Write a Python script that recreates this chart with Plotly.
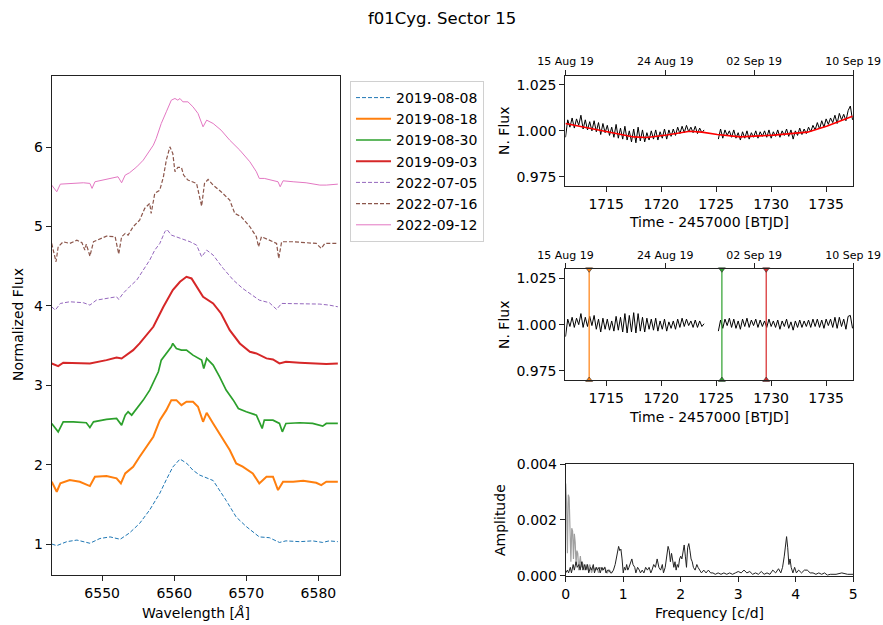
import plotly.graph_objects as go

# ---------------- Spectra (H-alpha profiles, offset) ----------------
wl_0808 = [6543.0, 6543.7, 6545.1, 6546.5, 6548.3, 6549.7, 6551.1, 6552.5, 6553.8, 6555.2, 6556.6, 6558.0,
           6558.9, 6559.8, 6560.8, 6561.7, 6562.6, 6563.5, 6565.4, 6566.3, 6567.2, 6568.6, 6570.0, 6571.8,
           6573.2, 6574.6, 6575.5, 6577.4, 6579.2, 6580.6, 6581.5, 6582.7]
fx_0808 = [1.00, 0.98, 1.03, 1.05, 1.01, 1.07, 1.09, 1.06, 1.14, 1.26, 1.43, 1.64,
           1.81, 1.97, 2.07, 2.02, 1.93, 1.87, 1.80, 1.68, 1.55, 1.34, 1.22, 1.09,
           1.08, 1.02, 1.04, 1.03, 1.04, 1.02, 1.04, 1.03]

wl_0818 = [6543.0, 6543.7, 6544.2, 6545.5, 6546.9, 6548.3, 6549.0, 6550.6, 6552.0, 6552.6, 6553.2, 6554.3,
           6555.2, 6556.2, 6557.1, 6558.0, 6558.9, 6559.6, 6560.3, 6561.0, 6561.7, 6562.6, 6563.3, 6564.0,
           6564.5, 6565.4, 6566.5, 6567.7, 6568.6, 6569.5, 6570.9, 6571.8, 6572.8, 6573.7, 6574.4, 6575.1,
           6576.5, 6577.9, 6579.7, 6580.4, 6581.1, 6582.7]
fx_0818 = [1.785, 1.659, 1.764, 1.806, 1.785, 1.730, 1.848, 1.856, 1.827, 1.764, 1.890, 1.974,
           2.100, 2.226, 2.352, 2.561, 2.687, 2.813, 2.813, 2.750, 2.792, 2.792, 2.729, 2.540,
           2.654, 2.519, 2.352, 2.184, 2.016, 1.974, 1.890, 1.764, 1.848, 1.848, 1.680, 1.785,
           1.785, 1.797, 1.772, 1.743, 1.785, 1.785]

wl_0830 = [6543.0, 6543.9, 6544.6, 6546.0, 6547.8, 6548.3, 6548.8, 6550.6, 6552.0, 6552.7, 6553.2, 6553.6,
           6554.1, 6554.8, 6555.7, 6556.6, 6557.3, 6557.8, 6558.2, 6558.9, 6559.6, 6559.8, 6560.3, 6561.0,
           6561.7, 6562.6, 6563.8, 6564.1, 6564.5, 6565.4, 6566.3, 6567.2, 6568.2, 6568.9, 6570.0, 6571.4,
           6571.8, 6572.2, 6572.5, 6573.7, 6574.6, 6575.0, 6575.5, 6577.4, 6579.2, 6580.6, 6581.1, 6582.7]
fx_0830 = [2.519, 2.414, 2.540, 2.540, 2.528, 2.469, 2.540, 2.570, 2.582, 2.498, 2.624, 2.666,
           2.624, 2.708, 2.813, 2.939, 3.065, 3.170, 3.317, 3.401, 3.485, 3.527, 3.464, 3.443,
           3.443, 3.380, 3.317, 3.212, 3.338, 3.254, 3.107, 2.939, 2.813, 2.708, 2.666, 2.624,
           2.540, 2.456, 2.561, 2.561, 2.519, 2.414, 2.519, 2.528, 2.519, 2.486, 2.519, 2.519]

wl_0903 = [6543.0, 6543.9, 6544.6, 6546.0, 6548.3, 6550.6, 6552.0, 6552.7, 6553.4, 6554.3, 6555.2, 6557.1,
           6558.5, 6559.8, 6560.8, 6561.7, 6562.4, 6563.1, 6564.0, 6565.4, 6566.5, 6567.7, 6569.1, 6570.5,
           6571.4, 6572.8, 6573.7, 6574.6, 6575.5, 6577.4, 6579.2, 6581.1, 6582.7]
fx_0903 = [3.275, 3.242, 3.284, 3.284, 3.275, 3.317, 3.351, 3.338, 3.380, 3.443, 3.527, 3.737,
           3.989, 4.199, 4.304, 4.367, 4.346, 4.241, 4.115, 4.031, 3.905, 3.695, 3.527, 3.422,
           3.401, 3.339, 3.325, 3.275, 3.296, 3.284, 3.275, 3.267, 3.275]

wl_0705 = [6543.0, 6543.5, 6544.2, 6545.5, 6547.4, 6548.3, 6549.2, 6550.6, 6552.0, 6552.3, 6552.9, 6553.8,
           6554.8, 6555.7, 6556.6, 6557.3, 6558.0, 6558.7, 6559.0, 6559.6, 6560.8, 6562.2, 6563.1, 6563.8,
           6564.5, 6565.4, 6566.8, 6568.2, 6569.5, 6570.9, 6571.8, 6573.2, 6574.2, 6574.9, 6576.5, 6578.3,
           6580.2, 6581.5, 6582.7]
fx_0705 = [3.989, 3.947, 4.031, 4.052, 4.040, 4.010, 4.073, 4.094, 4.115, 4.082, 4.157, 4.241,
           4.325, 4.451, 4.577, 4.703, 4.787, 4.934, 4.963, 4.892, 4.850, 4.808, 4.766, 4.619,
           4.703, 4.640, 4.472, 4.325, 4.220, 4.136, 4.073, 4.040, 3.956, 4.031, 4.031, 4.023,
           4.023, 4.010, 3.989]

wl_0716 = [6543.0, 6543.6, 6543.9, 6544.6, 6545.5, 6546.5, 6547.2, 6547.6, 6547.8, 6548.3, 6548.8, 6550.6,
           6551.8, 6552.3, 6552.7, 6553.2, 6553.6, 6554.3, 6555.2, 6555.9, 6556.6, 6556.8, 6557.3, 6558.0,
           6558.5, 6558.9, 6559.4, 6559.8, 6560.1, 6560.5, 6561.0, 6561.3, 6561.9, 6563.1, 6563.8, 6564.2,
           6564.7, 6565.4, 6566.5, 6567.7, 6568.4, 6569.3, 6570.5, 6571.4, 6571.7, 6572.1, 6573.2, 6574.2,
           6574.5, 6574.9, 6576.5, 6578.3, 6579.7, 6580.4, 6580.9, 6582.7]
fx_0716 = [4.787, 4.556, 4.745, 4.808, 4.787, 4.829, 4.795, 4.703, 4.779, 4.627, 4.808, 4.879,
           4.871, 4.653, 4.871, 4.913, 4.892, 4.997, 5.081, 5.228, 5.291, 5.165, 5.417, 5.459,
           5.627, 5.836, 6.004, 5.920, 5.690, 5.744, 5.744, 5.648, 5.585, 5.543, 5.257, 5.543,
           5.593, 5.522, 5.438, 5.333, 5.165, 5.123, 4.997, 4.871, 4.745, 4.871, 4.829, 4.787,
           4.598, 4.808, 4.808, 4.795, 4.787, 4.724, 4.787, 4.787]

wl_0912 = [6543.0, 6543.7, 6544.2, 6545.5, 6547.4, 6548.3, 6548.6, 6549.0, 6550.6, 6552.2, 6552.7, 6553.2,
           6553.8, 6554.8, 6555.7, 6556.6, 6557.1, 6557.5, 6558.2, 6558.9, 6559.6, 6560.1, 6560.5, 6560.8,
           6561.2, 6561.9, 6562.6, 6563.3, 6564.0, 6564.5, 6565.4, 6566.5, 6567.7, 6569.1, 6570.5, 6571.4,
           6571.8, 6572.5, 6573.7, 6574.4, 6574.7, 6575.1, 6576.5, 6578.3, 6580.2, 6581.1, 6582.7]
fx_0912 = [5.522, 5.438, 5.534, 5.543, 5.551, 5.543, 5.480, 5.564, 5.593, 5.627, 5.551, 5.648,
           5.677, 5.752, 5.836, 5.962, 6.025, 6.109, 6.298, 6.445, 6.592, 6.613, 6.592, 6.613,
           6.571, 6.571, 6.508, 6.424, 6.256, 6.340, 6.298, 6.214, 6.088, 5.962, 5.815, 5.690,
           5.606, 5.606, 5.585, 5.564, 5.501, 5.576, 5.564, 5.551, 5.522, 5.522, 5.534]

spec_dates = ["2019-08-08", "2019-08-18", "2019-08-30", "2019-09-03", "2022-07-05", "2022-07-16", "2022-09-12"]

# ---------------- TESS light curve (Sector 15) ----------------
t_seg1 = [1711.3, 1711.5, 1711.7, 1711.9, 1712.1, 1712.3, 1712.5, 1712.7, 1712.9, 1713.1, 1713.3, 1713.5,
          1713.7, 1713.9, 1714.1, 1714.3, 1714.5, 1714.7, 1714.9, 1715.1, 1715.3, 1715.5, 1715.7, 1715.9,
          1716.1, 1716.3, 1716.5, 1716.7, 1716.9, 1717.1, 1717.3, 1717.5, 1717.7, 1717.9, 1718.1, 1718.3,
          1718.5, 1718.7, 1718.9, 1719.1, 1719.3, 1719.5, 1719.7, 1719.9, 1720.1, 1720.3, 1720.5, 1720.7,
          1720.9, 1721.1, 1721.3, 1721.5, 1721.7, 1721.9, 1722.1, 1722.3, 1722.5, 1722.7, 1722.9, 1723.1,
          1723.3, 1723.5, 1723.7, 1723.9]
t_seg2 = [1725.2, 1725.4, 1725.6, 1725.8, 1726.0, 1726.2, 1726.4, 1726.6, 1726.8, 1727.0, 1727.2, 1727.4,
          1727.6, 1727.8, 1728.0, 1728.2, 1728.4, 1728.6, 1728.8, 1729.0, 1729.2, 1729.4, 1729.6, 1729.8,
          1730.0, 1730.2, 1730.4, 1730.6, 1730.8, 1731.0, 1731.2, 1731.4, 1731.6, 1731.8, 1732.0, 1732.2,
          1732.4, 1732.6, 1732.8, 1733.0, 1733.2, 1733.4, 1733.6, 1733.8, 1734.0, 1734.2, 1734.4, 1734.6,
          1734.8, 1735.0, 1735.2, 1735.4, 1735.6, 1735.8, 1736.0, 1736.2, 1736.4, 1736.6, 1736.8, 1737.0,
          1737.2, 1737.4]

raw_seg1 = [0.9965, 1.0060, 1.0020, 1.0070, 1.0015, 1.0065, 1.0030, 1.0085, 1.0010, 1.0060, 1.0005, 1.0050,
            1.0000, 1.0055, 0.9995, 1.0045, 0.9980, 1.0040, 0.9990, 1.0030, 0.9975, 1.0020, 0.9965, 1.0035,
            0.9960, 1.0015, 0.9955, 1.0025, 0.9950, 1.0000, 0.9940, 1.0010, 0.9935, 1.0020, 0.9945, 1.0005,
            0.9940, 0.9990, 0.9950, 1.0000, 0.9955, 1.0005, 0.9950, 0.9995, 0.9960, 1.0010, 0.9955, 1.0005,
            0.9970, 1.0010, 0.9975, 1.0020, 0.9985, 1.0025, 0.9990, 1.0030, 0.9995, 1.0020, 0.9990, 1.0025,
            0.9985, 1.0015, 0.9990, 1.0005]
raw_seg2 = [0.9955, 1.0010, 0.9960, 1.0005, 0.9975, 1.0000, 0.9965, 1.0005, 0.9960, 0.9990, 0.9950, 0.9995,
            0.9960, 1.0000, 0.9955, 0.9990, 0.9965, 1.0000, 0.9960, 0.9995, 0.9970, 1.0000, 0.9965, 1.0005,
            0.9960, 0.9995, 0.9970, 1.0005, 0.9965, 1.0000, 0.9975, 1.0010, 0.9970, 1.0005, 0.9955, 1.0000,
            0.9975, 1.0015, 0.9980, 1.0010, 0.9985, 1.0020, 0.9995, 1.0030, 1.0005, 1.0045, 1.0010, 1.0055,
            1.0020, 1.0065, 1.0035, 1.0070, 1.0045, 1.0085, 1.0040, 1.0095, 1.0060, 1.0090, 1.0055, 1.0110,
            1.0135, 1.0060]

trend_t = [1711.3, 1713.3, 1715.1, 1717.5, 1718.7, 1720.5, 1722.6, 1723.7, 1725.1, 1727.2, 1730.2, 1733.3, 1735.1, 1737.4]
trend_f = [1.0040, 1.0018, 0.9995, 0.9967, 0.9964, 0.9977, 0.9998, 0.9993, 0.9980, 0.9967, 0.9977, 0.9993, 1.0026, 1.0080]

det_seg1 = [0.9935, 1.0030, 0.9990, 1.0040, 0.9985, 1.0035, 1.0000, 1.0060, 0.9985, 1.0040, 0.9990, 1.0045,
            0.9995, 1.0050, 0.9975, 1.0030, 0.9960, 1.0035, 0.9975, 1.0030, 0.9970, 1.0020, 0.9965, 1.0045,
            0.9970, 1.0040, 0.9960, 1.0060, 0.9955, 1.0050, 0.9960, 1.0065, 0.9955, 1.0060, 0.9965, 1.0040,
            0.9960, 1.0035, 0.9975, 1.0030, 0.9970, 1.0035, 0.9965, 1.0020, 0.9975, 1.0030, 0.9965, 1.0015,
            0.9980, 1.0020, 0.9975, 1.0030, 0.9985, 1.0035, 0.9990, 1.0030, 0.9995, 1.0020, 0.9985, 1.0025,
            0.9985, 1.0020, 0.9990, 1.0005]
det_seg2 = [0.9965, 1.0025, 0.9980, 1.0030, 0.9995, 1.0035, 0.9985, 1.0030, 0.9980, 1.0020, 0.9975, 1.0030,
            0.9990, 1.0035, 0.9985, 1.0025, 0.9995, 1.0030, 0.9985, 1.0025, 0.9990, 1.0020, 0.9985, 1.0030,
            0.9990, 1.0020, 0.9985, 1.0025, 0.9975, 1.0020, 0.9990, 1.0030, 0.9980, 1.0015, 0.9970, 1.0020,
            0.9985, 1.0025, 0.9985, 1.0020, 0.9990, 1.0025, 0.9985, 1.0030, 0.9990, 1.0030, 0.9985, 1.0025,
            0.9980, 1.0030, 0.9995, 1.0030, 0.9985, 1.0040, 0.9980, 1.0040, 0.9990, 1.0030, 0.9975, 1.0045,
            1.0050, 0.9980]

# epochs of the 2019 spectra, marked on the detrended light curve
spec_epochs = [1713.45, 1725.52, 1729.55]
spec_epoch_colors = ["#ff7f0e", "#2ca02c", "#d62728"]

# calendar ticks on the top axes
date_tick_btjd = [1711.3, 1720.36, 1728.45, 1737.45]
date_tick_text = ["15 Aug 19", "24 Aug 19", "02 Sep 19", "10 Sep 19"]

# ---------------- Amplitude spectra ----------------
freq_det = [0.00, 0.03, 0.05, 0.08, 0.10, 0.13, 0.15, 0.18, 0.20, 0.23, 0.25, 0.28, 0.30, 0.33, 0.35, 0.38,
            0.40, 0.43, 0.45, 0.48, 0.50, 0.53, 0.55, 0.58, 0.60, 0.63, 0.65, 0.68, 0.70, 0.73, 0.75, 0.78,
            0.80, 0.83, 0.86, 0.89, 0.92, 0.94, 0.96, 0.98, 1.00, 1.02, 1.04, 1.06, 1.08, 1.10, 1.13, 1.15,
            1.17, 1.20, 1.22, 1.25, 1.28, 1.30, 1.33, 1.36, 1.39, 1.42, 1.45, 1.48, 1.50, 1.53, 1.56, 1.59,
            1.62, 1.65, 1.68, 1.70, 1.73, 1.76, 1.78, 1.80, 1.82, 1.84, 1.86, 1.88, 1.90, 1.92, 1.94, 1.96,
            1.98, 2.00, 2.02, 2.04, 2.06, 2.08, 2.10, 2.12, 2.14, 2.16, 2.18, 2.20, 2.22, 2.25, 2.28, 2.30,
            2.33, 2.36, 2.40, 2.44, 2.48, 2.52, 2.56, 2.60, 2.65, 2.70, 2.75, 2.80, 2.85, 2.90, 2.95, 3.00,
            3.05, 3.10, 3.15, 3.20, 3.25, 3.30, 3.35, 3.40, 3.45, 3.50, 3.55, 3.60, 3.65, 3.70, 3.74, 3.77,
            3.80, 3.82, 3.84, 3.86, 3.88, 3.90, 3.92, 3.95, 3.98, 4.01, 4.05, 4.10, 4.15, 4.20, 4.25, 4.30,
            4.35, 4.40, 4.45, 4.50, 4.55, 4.60, 4.70, 4.80, 4.90, 5.00]
amp_det = [0.0001, 0.0002, 0.0001, 0.0003, 0.0001, 0.0004, 0.0002, 0.0005, 0.0003, 0.0004, 0.0002, 0.0005,
           0.0002, 0.0004, 0.0002, 0.0004, 0.0001, 0.0003, 0.0002, 0.0004, 0.0001, 0.0003, 0.0002, 0.0003,
           0.0001, 0.0003, 0.0002, 0.0003, 0.0001, 0.0002, 0.0002, 0.0001, 0.0001, 0.0002, 0.0004, 0.0008,
           0.00105, 0.0009, 0.00095, 0.0006, 0.0001, 0.0003, 0.0002, 0.0004, 0.0002, 0.0003, 0.0005, 0.0006,
           0.0004, 0.0003, 0.0001, 0.0003, 0.0002, 0.0001, 0.0002, 0.0001, 0.0003, 0.0002, 0.0003, 0.0001,
           0.0002, 0.0004, 0.0003, 0.0006, 0.0003, 0.0002, 0.0004, 0.0001, 0.0003, 0.0008, 0.00105, 0.0009,
           0.0005, 0.0008, 0.0006, 0.0003, 0.0005, 0.0002, 0.0004, 0.0003, 0.0006, 0.0007, 0.0006, 0.0009,
           0.0011, 0.0007, 0.0003, 0.0010, 0.00115, 0.0009, 0.0006, 0.0005, 0.0003, 0.0002, 0.0004, 0.0003,
           0.0002, 0.0001, 0.0002, 0.0001, 0.0002, 0.0001, 0.0001, 0.00005, 0.0001, 0.00005, 0.0001, 0.00005,
           0.0001, 0.00005, 0.0001, 0.00015, 0.0001, 0.0002, 0.0001, 0.00015, 0.00005, 0.0001, 0.00005, 0.00015,
           0.00005, 0.0001, 0.00005, 0.0002, 0.0001, 0.00025, 0.0001, 0.0003, 0.0007, 0.0012, 0.0014, 0.0010,
           0.0004, 0.0006, 0.0003, 0.0001, 0.0003, 0.0001, 0.0002, 0.0001, 0.0002, 0.0002, 0.0001, 0.0001,
           0.00005, 0.0001, 0.00005, 0.0001, 0.00002, 0.00005, 0.00005, 0.0001, 0.00005, 0.00005]

freq_raw = [0.000, 0.015, 0.030, 0.045, 0.060, 0.075, 0.090, 0.105, 0.120, 0.135, 0.150, 0.165, 0.180, 0.195,
            0.210, 0.225, 0.240, 0.255, 0.270, 0.285, 0.300, 0.330, 0.360, 0.390, 0.420, 0.450, 0.480, 0.510,
            0.540, 0.570, 0.600, 0.640, 0.680, 0.720, 0.760, 0.800]
amp_raw = [0.0033, 0.0026, 0.0008, 0.0029, 0.0028, 0.0009, 0.0005, 0.0017, 0.0016, 0.0006, 0.0015, 0.0012,
           0.0004, 0.0009, 0.0008, 0.0002, 0.0006, 0.0007, 0.0003, 0.0005, 0.0004, 0.0002, 0.0004, 0.0002,
           0.0004, 0.0001, 0.0003, 0.0002, 0.0003, 0.0001, 0.0003, 0.0002, 0.0003, 0.0001, 0.0002, 0.0001]

# ---------------- Figure ----------------
W, H = 883, 625
FONT = "DejaVu Sans"
AX = "#222222"


def px(x):
    return x / W


def py(y):
    return 1 - y / H


fig = go.Figure()

spec_styles = [
    (wl_0808, fx_0808, "#1f77b4", 1.0, "4px,2px"),
    (wl_0818, fx_0818, "#ff7f0e", 2.0, "solid"),
    (wl_0830, fx_0830, "#2ca02c", 1.7, "solid"),
    (wl_0903, fx_0903, "#d62728", 2.0, "solid"),
    (wl_0705, fx_0705, "#9467bd", 1.0, "4px,2px"),
    (wl_0716, fx_0716, "#8c564b", 1.2, "4px,2px"),
    (wl_0912, fx_0912, "#e377c2", 1.0, "solid"),
]
for (wl, fx, col, lw, dash), name in zip(spec_styles, spec_dates):
    fig.add_trace(go.Scatter(x=wl, y=fx, mode="lines", name=name,
                             line=dict(color=col, width=lw, dash=dash),
                             xaxis="x", yaxis="y", hoverinfo="skip"))

# raw light curve + trend
fig.add_trace(go.Scatter(x=t_seg1 + [None] + t_seg2, y=raw_seg1 + [None] + raw_seg2, mode="lines",
                         line=dict(color="black", width=1), showlegend=False,
                         xaxis="x2", yaxis="y2", hoverinfo="skip", connectgaps=False))
fig.add_trace(go.Scatter(x=trend_t, y=trend_f, mode="lines", line=dict(color="red", width=1.6),
                         showlegend=False, xaxis="x2", yaxis="y2", hoverinfo="skip"))
fig.add_trace(go.Scatter(x=[None], y=[None], xaxis="x3", yaxis="y2", showlegend=False, hoverinfo="skip"))

# detrended light curve + epochs
fig.add_trace(go.Scatter(x=t_seg1 + [None] + t_seg2, y=det_seg1 + [None] + det_seg2, mode="lines",
                         line=dict(color="black", width=1), showlegend=False,
                         xaxis="x4", yaxis="y4", hoverinfo="skip", connectgaps=False))
for t, c in zip(spec_epochs, spec_epoch_colors):
    fig.add_trace(go.Scatter(x=[t, t], y=[0.970, 1.030], mode="lines+markers",
                             line=dict(color=c, width=1.2),
                             marker=dict(symbol=["triangle-up", "triangle-down"], size=6, color=c,
                                         line=dict(color="#333333", width=0.6)),
                             cliponaxis=False, showlegend=False, xaxis="x4", yaxis="y4", hoverinfo="skip"))
fig.add_trace(go.Scatter(x=[None], y=[None], xaxis="x5", yaxis="y4", showlegend=False, hoverinfo="skip"))

# periodograms
fig.add_trace(go.Scatter(x=freq_raw, y=amp_raw, mode="lines", line=dict(color="#a0a0a0", width=1.2),
                         showlegend=False, xaxis="x6", yaxis="y6", hoverinfo="skip"))
fig.add_trace(go.Scatter(x=freq_det, y=amp_det, mode="lines", line=dict(color="#222222", width=1),
                         showlegend=False, xaxis="x6", yaxis="y6", hoverinfo="skip"))

tickfont = dict(family=FONT, size=14, color="black")
common = dict(showline=True, linecolor=AX, linewidth=1, mirror=True, ticks="outside", ticklen=5,
              tickwidth=1, tickcolor=AX, showgrid=False, zeroline=False, tickfont=tickfont,
              automargin=False)
topax = dict(side="top", ticks="outside", ticklen=5, tickcolor=AX, showgrid=False, zeroline=False,
             showline=False, automargin=False, tickfont=dict(family=FONT, size=11, color="black"))

xl = [px(51.7), px(340)]
xr = [px(565.3), px(853.3)]
lc_range = [1711.28, 1737.47]

fig.update_layout(
    width=W, height=H, margin=dict(l=0, r=0, t=0, b=0, autoexpand=False),
    paper_bgcolor="white", plot_bgcolor="white",
    font=dict(family=FONT, size=14, color="black"),
    xaxis=dict(domain=xl, range=[6543, 6583], anchor="y", tickvals=[6550, 6560, 6570, 6580], **common),
    yaxis=dict(domain=[py(575), py(75.7)], range=[0.61, 6.90], anchor="x", tickvals=[1, 2, 3, 4, 5, 6], **common),
    xaxis2=dict(domain=xr, range=lc_range, anchor="y2", tickvals=[1715, 1720, 1725, 1730, 1735], **common),
    yaxis2=dict(domain=[py(186), py(75.7)], range=[0.970, 1.030], anchor="x2",
                tickvals=[0.975, 1.0, 1.025], tickformat=".3f", **common),
    xaxis3=dict(overlaying="x2", anchor="y2", range=lc_range, tickvals=date_tick_btjd,
                ticktext=date_tick_text, **topax),
    xaxis4=dict(domain=xr, range=lc_range, anchor="y4", tickvals=[1715, 1720, 1725, 1730, 1735], **common),
    yaxis4=dict(domain=[py(380), py(269.3)], range=[0.970, 1.030], anchor="x4",
                tickvals=[0.975, 1.0, 1.025], tickformat=".3f", **common),
    xaxis5=dict(overlaying="x4", anchor="y4", range=lc_range, tickvals=date_tick_btjd,
                ticktext=date_tick_text, **topax),
    xaxis6=dict(domain=[px(565.7), px(853.3)], range=[0, 5], anchor="y6", tickvals=[0, 1, 2, 3, 4, 5], **common),
    yaxis6=dict(domain=[py(575.7), py(464)], range=[0, 0.004], anchor="x6",
                tickvals=[0, 0.002, 0.004], tickformat=".3f", **common),
    legend=dict(x=px(350), y=py(81), xanchor="left", yanchor="top", bgcolor="white",
                bordercolor="#d0d0d0", borderwidth=1, font=dict(family=FONT, size=14, color="black"),
                itemwidth=35, tracegroupgap=0),
)

annots = [
    ("f01Cyg. Sector 15", 441.5, 18, 0, 16.5),
    ("Normalized Flux", 18, 325, -90, 14),
    ("Wavelength [<i>Å</i>]", 196, 613, 0, 14),
    ("Time - 2457000 [BTJD]", 709, 222, 0, 14),
    ("Time - 2457000 [BTJD]", 709, 417, 0, 14),
    ("N. Flux", 504, 131, -90, 14),
    ("N. Flux", 504, 325, -90, 14),
    ("Amplitude", 500, 520, -90, 14),
    ("Frequency [c/d]", 709, 613, 0, 14),
]
for txt, x, y, rot, sz in annots:
    fig.add_annotation(text=txt, x=px(x), y=py(y), xref="paper", yref="paper", showarrow=False,
                       textangle=rot, xanchor="center", yanchor="middle",
                       font=dict(family=FONT, size=sz, color="black"))

fig.write_html("out.html")
